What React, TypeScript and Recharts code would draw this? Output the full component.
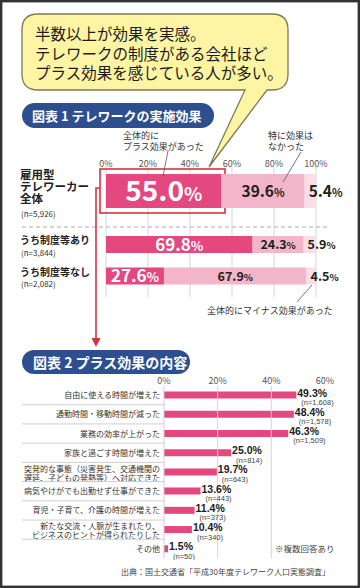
import React from "react";
import {
  BarChart,
  Bar,
  XAxis,
  YAxis,
  CartesianGrid,
  LabelList,
  ReferenceLine,
} from "recharts";

const FONT = '"Noto Sans CJK JP", "Noto Sans", sans-serif';
const NUM_FONT = '"Liberation Sans", Arial, sans-serif';

// 色
const PINK_DARK = "#e4487f";
const PINK_LIGHT = "#f3b5c9";
const PINK_PALE = "#fbdde7";
const NAVY = "#2d4f8f";
const RED = "#d8323f";
const TEXT = "#222";
const GRID = "#d6d6d6";

// 図表1 テレワークの実施効果（%）
const effectGroups = ["雇用型\nテレワーカー\n全体", "うち制度等あり", "うち制度等なし"];
const effectCounts = ["(n=5,926)", "(n=3,844)", "(n=2,082)"];
const plusShare = [55.0, 69.8, 27.6];
const noneShare = [39.6, 24.3, 67.9];
const minusShare = [5.4, 5.9, 4.5];
const effectTicks = [0, 20, 40, 60, 80, 100];

// 図表2 プラス効果の内容（%）
const contentLabels = [
  "自由に使える時間が増えた",
  "通勤時間・移動時間が減った",
  "業務の効率が上がった",
  "家族と過ごす時間が増えた",
  "突発的な事態（災害発生、交通機関の\n遅延、子どもの発熱等）へ対応できた",
  "病気やけがでも出勤せず仕事ができた",
  "育児・子育て、介護の時間が増えた",
  "新たな交流・人脈が生まれたり、\nビジネスのヒントが得られたりした",
  "その他",
];
const contentShare = [49.3, 48.4, 46.3, 25.0, 19.7, 13.6, 11.4, 10.4, 1.5];
const contentCounts = ["1,608", "1,578", "1,509", "814", "643", "443", "373", "340", "50"];
const contentTicks = [0, 20, 40, 60];

const effectRows = effectGroups.map((name, i) => ({
  name,
  plus: plusShare[i],
  none: noneShare[i],
  minus: minusShare[i],
}));

const contentRows = contentLabels.map((name, i) => ({
  name,
  value: contentShare[i],
}));

const ROW_HALF = 9.6; // 図表2 の行の半分（区切り線用）

// 図表1 の行ラベル（1つの text に行ごとの tspan）
const EffectTick = (props: any) => {
  const { y, payload } = props;
  const i = effectGroups.indexOf(payload.value);
  const lines: string[] = String(payload.value).split("\n");
  const big = lines.length > 1;
  const size = big ? 11.5 : 10;
  const top = big ? y - 16 : y - 4;
  const nY = top + lines.length * 12 + (big ? 3 : 0);
  return (
    <text fontFamily={FONT} fill={TEXT}>
      {lines.map((ln, k) => (
        <tspan key={k} x={20} y={top + k * 12 + size * 0.36} fontSize={size} fontWeight={700}>
          {ln}
        </tspan>
      ))}
      <tspan x={21} y={nY + 8 * 0.36} fontSize={8} fill="#333">
        {effectCounts[i]}
      </tspan>
    </text>
  );
};

// 図表1 の数値ラベル
const pctLabel =
  (size: number, pctSize: number, fill: string, atStart = false) =>
  (props: any) => {
    const { x, y, width, height, value } = props;
    const cx = atStart ? x + 4 : x + width / 2;
    return (
      <text
        x={cx}
        y={y + height / 2 + size * 0.36}
        textAnchor={atStart ? "start" : "middle"}
        fontFamily={FONT}
        fontWeight={700}
        fill={fill}
      >
        <tspan fontSize={size}>{Number(value).toFixed(1)}</tspan>
        <tspan fontSize={pctSize}>%</tspan>
      </text>
    );
  };

// 全体のプラス効果を囲む赤枠
const BoxedBar = (props: any) => {
  const { x, y, width, height, fill } = props;
  return (
    <g>
      <rect x={x} y={y} width={width} height={height} fill={fill} />
      <rect
        x={x - 6}
        y={y - 5}
        width={width + 9.5}
        height={height + 10}
        fill="none"
        stroke={RED}
        strokeWidth={1.6}
      />
    </g>
  );
};

// 図表2 の行ラベル
const ContentTick = (props: any) => {
  const { x, y, payload } = props;
  const i = contentLabels.indexOf(payload.value);
  const lines: string[] = String(payload.value).split("\n");
  const top = lines.length > 1 ? y - 3.5 : y;
  return (
    <g>
      <text fontFamily={FONT} fontSize={8} fill="#333" textAnchor="end">
        {lines.map((ln, k) => (
          <tspan key={k} x={x} y={top + k * 9 + 3}>
            {ln}
          </tspan>
        ))}
      </text>
      {i < contentLabels.length - 1 && (
        <line
          x1={22}
          x2={164}
          y1={y + ROW_HALF}
          y2={y + ROW_HALF}
          stroke="#cfcfcf"
          strokeWidth={1}
        />
      )}
    </g>
  );
};

// 図表2 の数値ラベル
const ContentValue = (props: any) => {
  const { x, y, width, height, value } = props;
  const i = contentShare.indexOf(value);
  const ex = x + width;
  const cy = y + height / 2;
  return (
    <g fontFamily={NUM_FONT}>
      <text x={ex + 1} y={cy + 1.5} fontSize={10.5} fontWeight={700} fill={TEXT}>
        {Number(value).toFixed(1)}%
      </text>
      <text x={ex + 5} y={cy + 10} fontSize={7.5} fill="#444">
        (n={contentCounts[i]})
      </text>
    </g>
  );
};

const axisTick = { fontSize: 9, fill: "#555", fontFamily: FONT };

export default function App() {
  return (
    <div
      style={{
        position: "absolute",
        left: 0,
        top: 0,
        width: 360,
        height: 588,
        background: "#fff",
        overflow: "hidden",
      }}
    >
      {/* 図表1 全体 */}
      <div style={{ position: "absolute", left: 0, top: 0 }}>
        <BarChart
          width={360}
          height={229}
          data={effectRows.slice(0, 1)}
          layout="vertical"
          margin={{ top: 147, right: 44, bottom: 0, left: 0 }}
        >
          <CartesianGrid horizontal={false} stroke={GRID} />
          <XAxis
            type="number"
            orientation="top"
            domain={[0, 100]}
            ticks={effectTicks}
            interval={0}
            tickFormatter={(v) => `${v}%`}
            axisLine={false}
            tickLine={false}
            tickSize={0}
            tickMargin={0}
            height={20}
            tick={axisTick}
          />
          <YAxis
            type="category"
            dataKey="name"
            width={106}
            axisLine={false}
            tickLine={false}
            tick={<EffectTick />}
            padding={{ top: 0, bottom: 14 }}
          />
          <Bar
            dataKey="plus"
            stackId="a"
            fill={PINK_DARK}
            barSize={34}
            shape={<BoxedBar />}
            isAnimationActive={false}
          >
            <LabelList dataKey="plus" content={pctLabel(28, 19, "#fff")} />
          </Bar>
          <Bar dataKey="none" stackId="a" fill={PINK_LIGHT} barSize={34} isAnimationActive={false}>
            <LabelList dataKey="none" content={pctLabel(15.5, 11, TEXT)} />
          </Bar>
          <Bar dataKey="minus" stackId="a" fill={PINK_PALE} barSize={34} isAnimationActive={false}>
            <LabelList dataKey="minus" content={pctLabel(15.5, 11, TEXT, true)} />
          </Bar>
        </BarChart>
      </div>

      {/* 図表1 制度等あり・なし */}
      <div style={{ position: "absolute", left: 0, top: 229 }}>
        <BarChart
          width={360}
          height={68}
          data={effectRows.slice(1)}
          layout="vertical"
          margin={{ top: 0, right: 44, bottom: 0, left: 0 }}
        >
          <CartesianGrid horizontal={false} stroke={GRID} />
          <XAxis type="number" domain={[0, 100]} ticks={effectTicks} hide />
          <YAxis
            type="category"
            dataKey="name"
            width={106}
            axisLine={false}
            tickLine={false}
            tick={<EffectTick />}
            interval={0}
            padding={{ top: 0, bottom: 5 }}
          />
          <Bar dataKey="plus" stackId="a" fill={PINK_DARK} barSize={17} isAnimationActive={false}>
            <LabelList dataKey="plus" content={pctLabel(17, 13, "#fff")} />
          </Bar>
          <Bar dataKey="none" stackId="a" fill={PINK_LIGHT} barSize={17} isAnimationActive={false}>
            <LabelList dataKey="none" content={pctLabel(12.5, 9.5, TEXT)} />
          </Bar>
          <Bar dataKey="minus" stackId="a" fill={PINK_PALE} barSize={17} isAnimationActive={false}>
            <LabelList dataKey="minus" content={pctLabel(12.5, 9.5, TEXT, true)} />
          </Bar>
        </BarChart>
      </div>

      {/* 図表2 */}
      <div style={{ position: "absolute", left: 0, top: 350 }}>
        <BarChart
          width={360}
          height={210}
          data={contentRows}
          layout="vertical"
          margin={{ top: 19.5, right: 35, bottom: 1.5, left: 0 }}
        >
          <XAxis
            type="number"
            orientation="top"
            domain={[0, 60]}
            ticks={contentTicks}
            interval={0}
            tickFormatter={(v) => `${v}%`}
            axisLine={false}
            tickLine={false}
            tickSize={0}
            tickMargin={2}
            height={16}
            tick={axisTick}
          />
          <YAxis
            type="category"
            dataKey="name"
            width={164}
            axisLine={{ stroke: "#cfcfcf" }}
            tickLine={false}
            tickSize={0}
            tickMargin={4}
            interval={0}
            tick={<ContentTick />}
          />
          <ReferenceLine x={20} stroke={GRID} />
          <ReferenceLine x={40} stroke={GRID} />
          <Bar dataKey="value" fill={PINK_DARK} barSize={7} isAnimationActive={false}>
            <LabelList dataKey="value" content={ContentValue} />
          </Bar>
        </BarChart>
      </div>

      {/* 吹き出し・見出し・注記 */}
      <svg
        width={360}
        height={588}
        style={{ position: "absolute", left: 0, top: 0, pointerEvents: "none" }}
        fontFamily={FONT}
      >
        <rect x={1.2} y={1.2} width={357.6} height={585.6} fill="none" stroke="#333" strokeWidth={2.4} />

        <path
          d="M38,14 H272 Q288,14 288,30 V74 Q288,90 272,90 H267 L209,167 L245,90 H38 Q22,90 22,74 V30 Q22,14 38,14 Z"
          fill="#fdf4a4"
          stroke="#7d7a5a"
          strokeWidth={1.3}
        />
        <g fontSize={15.5} fill="#1c1c1c" dominantBaseline="central">
          <text x={35} y={33}>半数以上が効果を実感。</text>
          <text x={35} y={53}>テレワークの制度がある会社ほど</text>
          <text x={35} y={72}>プラス効果を感じている人が多い。</text>
        </g>

        <rect x={22} y={103} width={192} height={25} rx={12.5} fill={NAVY} />
        <text x={32} y={115.5} fontSize={13} fontWeight={700} fill="#fff" dominantBaseline="central">
          図表 1 テレワークの実施効果
        </text>

        <g fontSize={9} fill="#333" dominantBaseline="central">
          <text x={123} y={135}>全体的に</text>
          <text x={123} y={146}>プラス効果があった</text>
          <text x={268} y={135}>特に効果は</text>
          <text x={268} y={146}>なかった</text>
          <text x={207} y={310}>全体的にマイナス効果があった</text>
        </g>
        <g stroke="#555" strokeWidth={0.8}>
          <line x1={168} y1={151} x2={163} y2={176} />
          <line x1={301} y1={152} x2={283} y2={182} />
          <line x1={312} y1={285} x2={297} y2={302} />
        </g>

        <line x1={22} y1={227} x2={330} y2={227} stroke="#aaa" strokeWidth={1} strokeDasharray="4 3" />

        <polyline points="100,188 96,188 96,339" fill="none" stroke={RED} strokeWidth={1.6} />
        <polygon points="91.5,338 100.5,338 96,347" fill={RED} />

        <rect x={22} y={350} width={168} height={24} rx={12} fill={NAVY} />
        <text x={33} y={362} fontSize={14} fontWeight={700} fill="#fff" dominantBaseline="central">
          図表 2 プラス効果の内容
        </text>

        <text x={275} y={548} fontSize={8.5} fill="#444" dominantBaseline="central">
          ※複数回答あり
        </text>
        <text x={330} y={571} fontSize={8} fill="#444" textAnchor="end" dominantBaseline="central">
          出典：国土交通省「平成30年度テレワーク人口実態調査」
        </text>
      </svg>
    </div>
  );
}
